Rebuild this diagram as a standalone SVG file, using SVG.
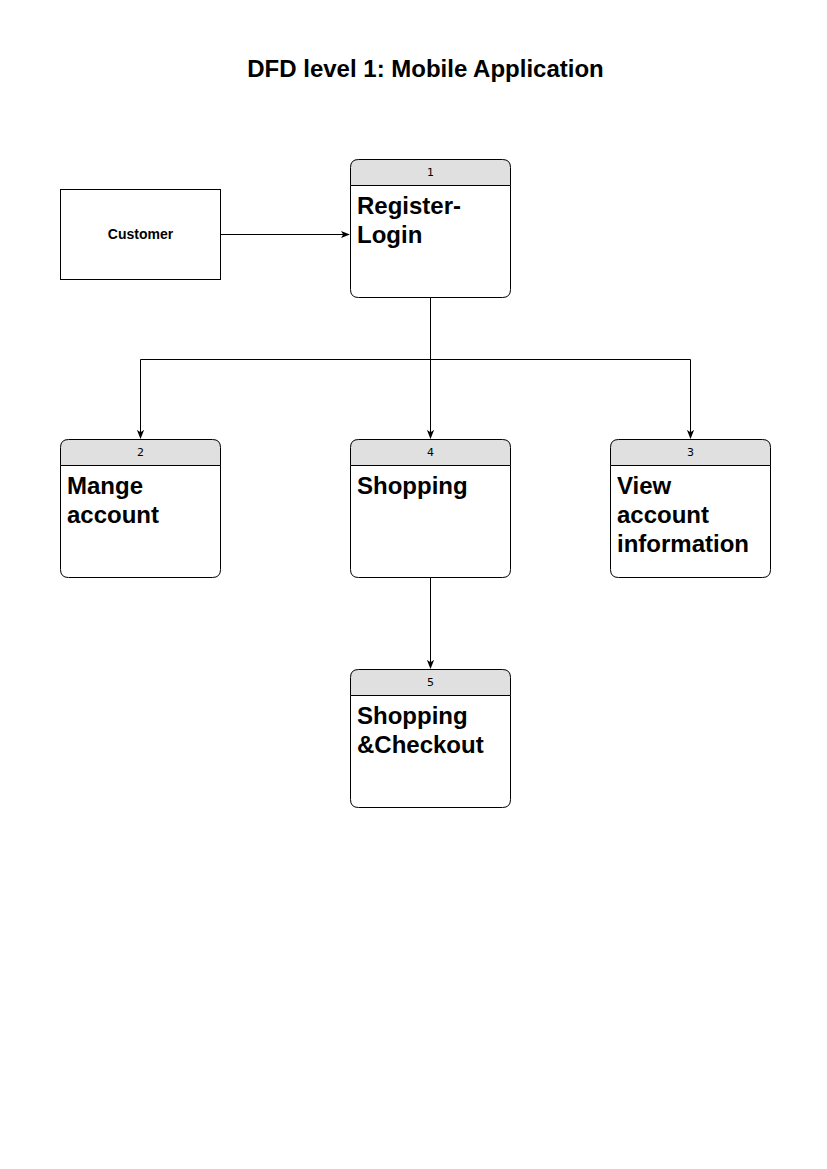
<svg xmlns="http://www.w3.org/2000/svg" width="827" height="1169" viewBox="0 0 827 1169">
<style>
.box{fill:#fff;stroke:#000;stroke-width:1}
.hdr{fill:#e0e0e0;stroke:#000;stroke-width:1}
.num{font-family:"DejaVu Sans",sans-serif;font-size:11px;text-anchor:middle;fill:#000}
.lbl{font-family:"Liberation Sans",Arial,sans-serif;font-size:24px;font-weight:bold;fill:#000}
.edge{fill:none;stroke:#000;stroke-width:1}
</style>
<defs>
<marker id="arr" viewBox="0 0 10 10" refX="9" refY="5" markerWidth="9" markerHeight="9" markerUnits="userSpaceOnUse" orient="auto">
<path d="M0,1 L10,5 L0,9 L2.5,5 Z" fill="#000"/>
</marker>
<symbol id="proc" overflow="visible">
<path class="hdr" d="M0.5,26.5 V8.5 Q0.5,0.5 8.5,0.5 H152.5 Q160.5,0.5 160.5,8.5 V26.5 Z"/>
<path class="box" d="M0.5,26.5 H160.5 V130.5 Q160.5,138.5 152.5,138.5 H8.5 Q0.5,138.5 0.5,130.5 Z"/>
</symbol>
</defs>
<rect width="827" height="1169" fill="#fff"/>
<text x="425.5" y="77" font-family="Liberation Sans, Arial, sans-serif" font-size="24" font-weight="bold" text-anchor="middle">DFD level 1: Mobile Application</text>
<g id="connectors">
<path class="edge" d="M220.5,234.5 H349" marker-end="url(#arr)"/>
<path class="edge" d="M430.5,297.5 V438" marker-end="url(#arr)"/>
<path class="edge" d="M430.5,359.5 H140.5 V438" marker-end="url(#arr)"/>
<path class="edge" d="M430.5,359.5 H690.5 V438" marker-end="url(#arr)"/>
<path class="edge" d="M430.5,577.5 V668" marker-end="url(#arr)"/>
</g>
<g id="customer">
<rect class="box" x="60.5" y="189.5" width="160" height="90"/>
<text x="140.5" y="239" font-family="Liberation Sans, Arial, sans-serif" font-size="14" font-weight="bold" text-anchor="middle">Customer</text>
</g>
<g id="p1" transform="translate(350,159)">
<use href="#proc"/>
<text class="num" x="80.5" y="17">1</text>
<text class="lbl" x="7" y="55">Register-</text>
<text class="lbl" x="7" y="84">Login</text>
</g>
<g id="p2" transform="translate(60,439)">
<use href="#proc"/>
<text class="num" x="80.5" y="17">2</text>
<text class="lbl" x="7" y="55">Mange</text>
<text class="lbl" x="7" y="84">account</text>
</g>
<g id="p4" transform="translate(350,439)">
<use href="#proc"/>
<text class="num" x="80.5" y="17">4</text>
<text class="lbl" x="7" y="55">Shopping</text>
</g>
<g id="p3" transform="translate(610,439)">
<use href="#proc"/>
<text class="num" x="80.5" y="17">3</text>
<text class="lbl" x="7" y="55">View</text>
<text class="lbl" x="7" y="84">account</text>
<text class="lbl" x="7" y="113">information</text>
</g>
<g id="p5" transform="translate(350,669)">
<use href="#proc"/>
<text class="num" x="80.5" y="17">5</text>
<text class="lbl" x="7" y="55">Shopping</text>
<text class="lbl" x="7" y="84">&amp;Checkout</text>
</g>
</svg>
